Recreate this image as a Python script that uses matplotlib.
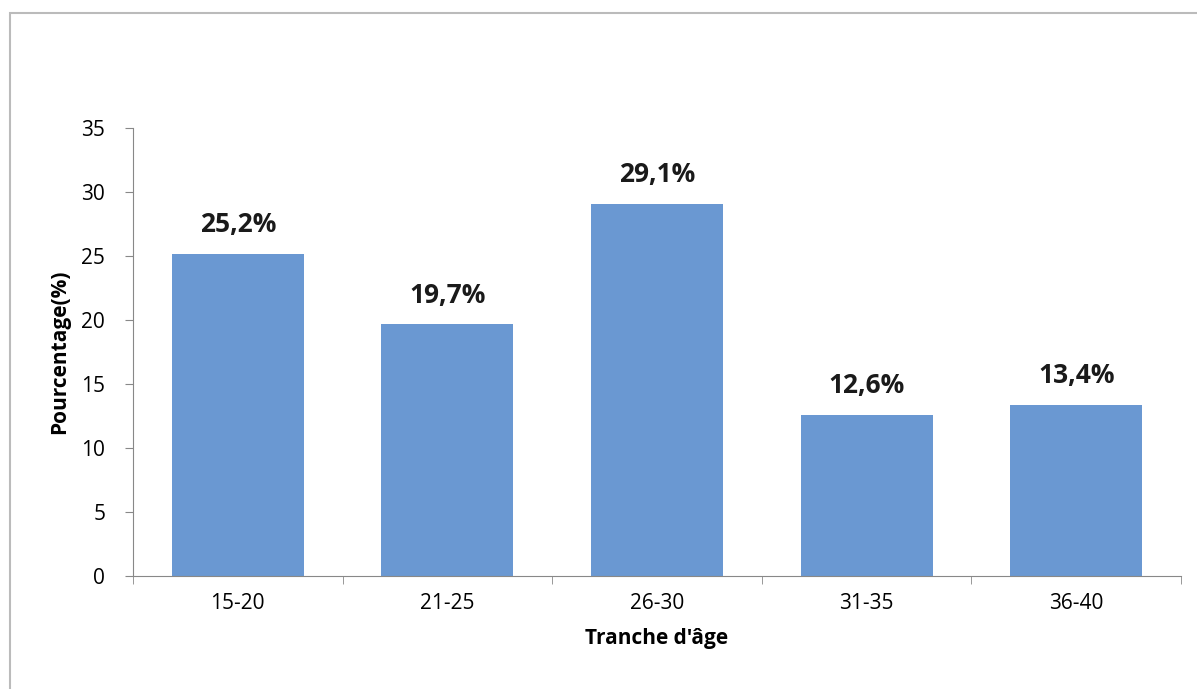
import numpy as np
import matplotlib.pyplot as plt
from matplotlib.patches import Rectangle

categories = ['15-20', '21-25', '26-30', '31-35', '36-40']
values = [25.2, 19.7, 29.1, 12.6, 13.4]
labels = ['25,2%', '19,7%', '29,1%', '12,6%', '13,4%']

plt.rcParams['font.family'] = ['Open Sans', 'DejaVu Sans']

fig = plt.figure(figsize=(11.97, 6.89), dpi=100)
ax = fig.add_axes([0.1111, 0.164, 0.8755, 0.650])

# light frame around the chart area
fig.patches.append(Rectangle((10 / 1197, -0.01), 1.2, 1 - 13 / 689 + 0.01,
                             transform=fig.transFigure, fill=False,
                             edgecolor='#bbbbbb', linewidth=1.5))

x = np.arange(len(categories))
ax.bar(x, values, width=0.63, color='#6a98d2')
for xi, v, lab in zip(x, values, labels):
    ax.text(xi, v + 1.2, lab, ha='center', va='bottom',
            fontsize=19, fontweight='bold', color='#1a1a1a')

ax.set_xlim(-0.5, len(categories) - 0.5)
ax.set_ylim(0, 35)
ax.set_yticks(np.arange(0, 36, 5))
ax.set_xticks(x)
ax.set_xticklabels(categories)
ax.set_xticks(np.arange(-0.5, len(categories)), minor=True)
ax.tick_params(axis='x', which='major', length=0, pad=12, labelsize=15)
ax.tick_params(axis='x', which='minor', length=6, color='#888888')
ax.tick_params(axis='y', length=6, color='#888888', labelsize=15, pad=14)

for s in ['top', 'right']:
    ax.spines[s].set_visible(False)
for s in ['left', 'bottom']:
    ax.spines[s].set_color('#888888')

ax.set_xlabel("Tranche d'âge", fontsize=15, fontweight='bold', labelpad=10)
ax.set_ylabel('Pourcentage(%)', fontsize=15, fontweight='bold', labelpad=8)

plt.savefig('out.png', dpi=100)
